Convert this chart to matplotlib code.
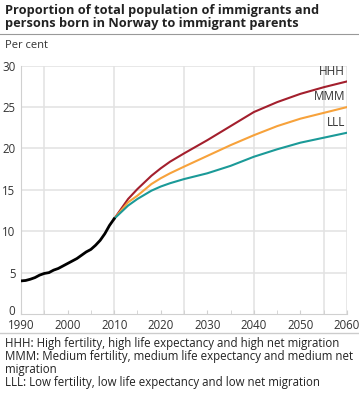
import matplotlib.pyplot as plt
import matplotlib.transforms as mtrans
import numpy as np

plt.rcParams['font.family'] = ['Open Sans', 'DejaVu Sans']

# registered figures 1990-2010
years_hist = [1990, 1991, 1992, 1993, 1994, 1995, 1996, 1997, 1998, 1999, 2000,
              2001, 2002, 2003, 2004, 2005, 2006, 2007, 2008, 2009, 2010]
share_hist = [4.0, 4.05, 4.2, 4.4, 4.7, 4.9, 5.0, 5.3, 5.5, 5.8, 6.1,
              6.4, 6.7, 7.1, 7.5, 7.8, 8.3, 8.9, 9.7, 10.7, 11.5]

# projections
years_proj = [2010, 2013, 2015, 2018, 2020, 2022, 2025, 2030, 2035, 2040, 2045, 2050, 2055, 2060]
hhh = [11.5, 13.9, 15.1, 16.7, 17.6, 18.4, 19.4, 21.0, 22.7, 24.4, 25.6, 26.6, 27.4, 28.1]
mmm = [11.5, 13.5, 14.3, 15.7, 16.4, 17.0, 17.8, 19.1, 20.4, 21.6, 22.7, 23.6, 24.3, 25.0]
lll = [11.5, 13.1, 13.9, 14.9, 15.4, 15.8, 16.3, 17.0, 17.9, 19.0, 19.9, 20.7, 21.3, 21.9]

scen_names = ['HHH', 'MMM', 'LLL']
scen_colors = ['#a31f2d', '#f7a23b', '#1b9a98']

fig = plt.figure(figsize=(3.59, 3.96), dpi=100)
ax = fig.add_axes([21/359, 1 - 314/396, 326/359, (314 - 65.7)/396])

grid_c = '#e2e2e2'
for y in [5, 10, 15, 20, 25, 30]:
    ax.axhline(y, color=grid_c, lw=1.1, zorder=0)
for x in [1995, 2010, 2025, 2040, 2055, 2060]:
    ax.axvline(x, color=grid_c, lw=1.1, zorder=0)

ax.plot(years_hist, share_hist, color='black', lw=2.0, zorder=3)
for vals, name, col in zip([hhh, mmm, lll], scen_names, scen_colors):
    ax.plot(years_proj, vals, color=col, lw=1.5, zorder=2)
    ax.text(2059.6, vals[-1] + 0.45, name, ha='right', va='bottom', fontsize=8.5, color='#333333')

ax.set_xlim(1990, 2060)
ax.set_ylim(0, 30)
ax.set_yticks(range(0, 31, 5))
ax.set_xticks(range(1990, 2061, 10))
ax.set_xticks(range(1990, 2061, 5), minor=True)
ax.tick_params(axis='y', length=0, labelsize=8.3, colors='#333333', pad=4)
ax.tick_params(axis='x', which='both', direction='in', length=3, color='#d0d0d0',
               labelsize=8.3, labelcolor='#333333', pad=3.5)
for s in ['top', 'right']:
    ax.spines[s].set_visible(False)
ax.spines['left'].set_color('#d0d0d0')
ax.spines['bottom'].set_color('#d0d0d0')

# nudge the "0" label up a little so it clears "1990"
zero_lbl = ax.get_yticklabels()[0]
zero_lbl.set_transform(zero_lbl.get_transform() + mtrans.ScaledTranslation(0, 3/72, fig.dpi_scale_trans))

fig.text(5/359, 1 - 4/396, 'Proportion of total population of immigrants and\npersons born in Norway to immigrant parents',
         ha='left', va='top', fontsize=9.2, fontweight='bold', color='#222222', linespacing=1.0)
fig.add_artist(plt.Line2D([0, 1], [1 - 34/396, 1 - 34/396], color='#999999', lw=0.8))
fig.text(5/359, 1 - 46/396, 'Per cent', ha='left', va='center', fontsize=8, color='#333333')
fig.add_artist(plt.Line2D([0, 1], [1 - 333/396, 1 - 333/396], color='#cccccc', lw=1.0))
fig.text(5/359, 1 - 337/396,
         'HHH: High fertility, high life expectancy and high net migration\n'
         'MMM: Medium fertility, medium life expectancy and medium net\n'
         'migration\n'
         'LLL: Low fertility, low life expectancy and low net migration',
         ha='left', va='top', fontsize=8.3, color='#222222', linespacing=1.0)

fig.savefig('out.png', dpi=100)
